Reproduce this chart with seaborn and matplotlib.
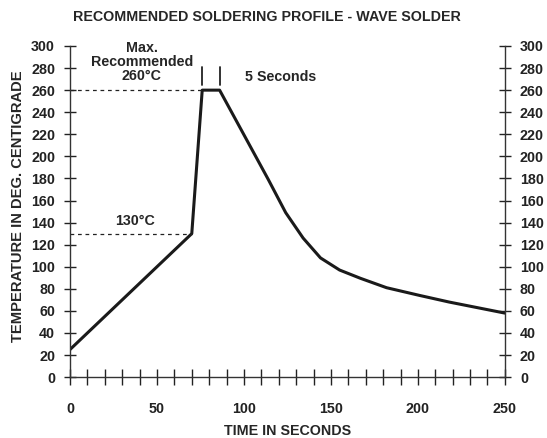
import matplotlib
matplotlib.use("Agg")
import matplotlib.pyplot as plt
import seaborn as sns
import pandas as pd

# ---- Data ----
time_s = [0, 70, 76, 86, 114, 124, 134, 144, 155, 167, 182, 201, 218, 250]
temp_c = [25, 130, 260, 260, 179, 149, 126, 108, 97, 89.5, 81, 74, 68, 58]
x_labels = [0, 50, 100, 150, 200, 250]
y_ticks = list(range(0, 301, 20))
peak_temp = 260
preheat_temp = 130
peak_start, peak_end = 76, 86

df = pd.DataFrame({"Time": time_s, "Temp": temp_c})

sns.set_style("ticks")
plt.rcParams['font.family'] = ['Liberation Sans', 'DejaVu Sans']
plt.rcParams['font.weight'] = 'bold'

FS = 10.3
fig = plt.figure(figsize=(5.47, 4.38), dpi=100)
ax = fig.add_axes([0.128, 0.139, 0.795, 0.756])

sns.lineplot(data=df, x="Time", y="Temp", ax=ax, color="#1a1a1a", linewidth=2.2)

# dashed reference lines
ax.plot([0, peak_start], [peak_temp, peak_temp], ls=(0, (3, 3)), color="#222222", lw=0.9)
ax.plot([0, time_s[1]], [preheat_temp, preheat_temp], ls=(0, (3, 3)), color="#222222", lw=0.9)

# 5 second markers
for xv in (peak_start, peak_end):
    ax.plot([xv, xv], [265, 281], color="#222222", lw=1.3)

ax.set_xlim(0, 250)
ax.set_ylim(0, 300)
ax.set_xticks(range(0, 251, 10))
ax.set_xticklabels([str(v) if v in x_labels else "" for v in range(0, 251, 10)])
ax.set_yticks(y_ticks)

ax.spines["top"].set_visible(False)
for s in ["left", "right", "bottom"]:
    ax.spines[s].set_visible(True)
    ax.spines[s].set_color("#333333")
    ax.spines[s].set_linewidth(1.0)

ax.tick_params(axis="x", direction="inout", length=12, width=1.0, pad=12,
               labelsize=FS, colors="#222222")
ax.tick_params(axis="y", direction="inout", length=8.6, width=1.0, pad=6.5,
               labelsize=FS, colors="#222222", right=True, labelright=True)

ax.set_xlabel("TIME IN SECONDS", fontsize=FS, fontweight="bold")
ax.xaxis.set_label_coords(0.5, -0.162)
ax.xaxis.label.set_va("center")
ax.set_ylabel("TEMPERATURE IN DEG. CENTIGRADE", fontsize=10.6, fontweight="bold")
ax.yaxis.set_label_coords(-0.1195, 0.515)
ax.yaxis.label.set_va("center")

ax.text(41.2, 285.3, "Max.\nRecommended\n260°C", ha="center", va="center", fontsize=FS,
        fontweight="bold", linespacing=1.0)
ax.text(100.6, 272, "5 Seconds", ha="left", va="center", fontsize=FS, fontweight="bold")
ax.text(37.4, 141.7, "130°C", ha="center", va="center", fontsize=FS, fontweight="bold")

fig.text(0.488, 0.961, "RECOMMENDED SOLDERING PROFILE - WAVE SOLDER", ha="center",
         va="center", fontsize=10.3, fontweight="bold")

fig.savefig("out.png", dpi=100)
